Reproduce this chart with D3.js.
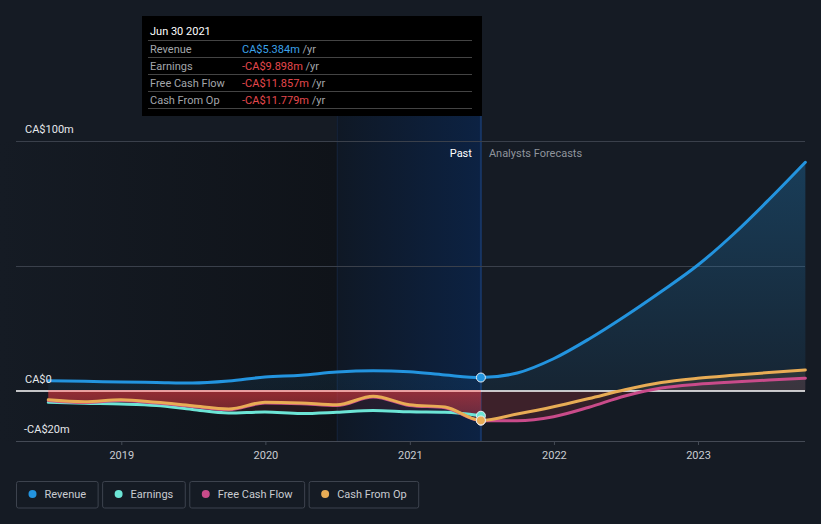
<!DOCTYPE html>
<html><head><meta charset="utf-8">
<script src="https://cdn.jsdelivr.net/npm/d3@7"></script>
<style>
html,body{margin:0;padding:0;background:#151b24;}
svg{display:block;font-family:Roboto,"Noto Sans",sans-serif;}
</style></head>
<body>
<svg id="chart" width="821" height="524"></svg>
<script>
// ---------- data ----------
const pastDates = ["2018-06-30","2018-09-30","2018-12-31","2019-03-31","2019-06-30","2019-09-30","2019-12-31","2020-03-31","2020-06-30","2020-09-30","2020-12-31","2021-03-31","2021-06-30"];
const revenuePast  = [4.1, 3.9, 3.6, 3.4, 3.2, 4.0, 5.6, 6.3, 7.6, 8.1, 7.7, 6.4, 5.384];
const earningsPast = [-4.5, -4.9, -5.2, -5.8, -7.4, -8.8, -8.4, -9.0, -8.5, -7.8, -8.3, -8.5, -9.898];
const fcfPast      = [-3.8, -4.6, -3.8, -4.8, -6.2, -7.5, -4.8, -5.1, -5.8, -2.4, -5.8, -6.7, -11.857];
const cfoPast      = [-3.5, -4.3, -3.5, -4.5, -5.9, -7.2, -4.5, -4.8, -5.5, -2.1, -5.5, -6.4, -11.779];

const forecastDates = ["2021-06-30","2021-09-30","2021-12-31","2022-03-31","2022-06-30","2022-09-30","2022-12-31","2023-03-31","2023-06-30","2023-09-30"];
const revenueFc = [5.384, 7.2, 12.9, 20.8, 29.9, 39.8, 50.3, 62.6, 76.6, 91.5];
const fcfFc     = [-11.857, -11.9, -10.3, -6.5, -2.0, 1.2, 2.7, 3.6, 4.4, 5.1];
const cfoFc     = [-11.779, -9.2, -6.3, -3.0, 0.5, 3.4, 5.1, 6.3, 7.4, 8.4];

const yTicks = [-20, 0, 100];
const yTickLabels = ["-CA$20m", "CA$0", "CA$100m"];
const xTickYears = [2019, 2020, 2021, 2022, 2023];

const seriesNames = ["Revenue", "Earnings", "Free Cash Flow", "Cash From Op"];
const seriesColors = ["#2394df", "#6ce5d6", "#c94b8a", "#e8ac55"];

const tooltipTitle = "Jun 30 2021";
const tooltipValues = ["CA$5.384m", "-CA$9.898m", "-CA$11.857m", "-CA$11.779m"];

// ---------- setup ----------
const parse = d3.timeParse("%Y-%m-%d");
const svg = d3.select("#chart");
const W = 821, H = 524;
const pL = 16, pR = 805, pT = 141, pB = 441;

const x = d3.scaleTime()
  .domain([new Date(2019,0,1), new Date(2023,0,1)])
  .range([121.3, 698]);
const y = d3.scaleLinear().domain([-20, 100]).range([pB, pT]);

const pD = pastDates.map(parse), fD = forecastDates.map(parse);
const mk = (dates, vals) => dates.map((d,i)=>({d, v: vals[i]}));
const revP = mk(pD, revenuePast), earP = mk(pD, earningsPast), fcfP = mk(pD, fcfPast), cfoP = mk(pD, cfoPast);
const revF = mk(fD, revenueFc), fcfF = mk(fD, fcfFc), cfoF = mk(fD, cfoFc);

const xNow = x(pD[pD.length-1]);
const xHl = x(parse("2020-06-30"));

const defs = svg.append("defs");
function lg(id, x1,y1,x2,y2, stops){
  const g = defs.append("linearGradient").attr("id", id)
    .attr("x1",x1).attr("y1",y1).attr("x2",x2).attr("y2",y2);
  stops.forEach(s=>g.append("stop").attr("offset",s[0]).attr("stop-color",s[1]).attr("stop-opacity",s[2]));
}
lg("pastBg","0","0","1","0",[[0,"#151b24",1],[1,"#0f1319",1]]);
lg("hlBg","0","0","1","0",[[0,"#0f1825",1],[1,"#0c2243",1]]);
lg("revArea","0","0","0","1",[[0,"#2394df",0.28],[1,"#2394df",0.08]]);
lg("redArea","0","0","0","1",[[0,"#d8383c",0.62],[1,"#d8383c",0.35]]);

// backgrounds
svg.append("rect").attr("x",0).attr("y",0).attr("width",W).attr("height",H).attr("fill","#151b24");
svg.append("rect").attr("x",0).attr("y",pT).attr("width",xHl).attr("height",pB-pT).attr("fill","url(#pastBg)");
svg.append("rect").attr("x",xHl).attr("y",116).attr("width",xNow-xHl).attr("height",pB-116).attr("fill","url(#hlBg)");
svg.append("line").attr("x1",xHl+0.5).attr("x2",xHl+0.5).attr("y1",116).attr("y2",pB).attr("stroke","#15233a").attr("stroke-width",1);
svg.append("line").attr("x1",xNow).attr("x2",xNow).attr("y1",116).attr("y2",pB).attr("stroke","#173563").attr("stroke-width",2);

// gridlines
[100, 50].forEach(v=>{
  svg.append("line").attr("x1",pL).attr("x2",pR).attr("y1",y(v)+0.5).attr("y2",y(v)+0.5)
    .attr("stroke","#3a404b").attr("stroke-width",1);
});

// areas
const curve = d3.curveMonotoneX;
const area0 = d3.area().x(p=>x(p.d)).y0(y(0)).y1(p=>y(p.v)).curve(curve);
const line = d3.line().x(p=>x(p.d)).y(p=>y(p.v)).curve(curve);

svg.append("path").datum(revP.concat(revF.slice(1))).attr("d",area0).attr("fill","url(#revArea)");
svg.append("path").datum(cfoP).attr("d",area0).attr("fill","url(#redArea)");
svg.append("path").datum(earP).attr("d",area0).attr("fill","#c83a40").attr("fill-opacity",0.12);

defs.append("clipPath").attr("id","below").append("rect").attr("x",0).attr("y",y(0)).attr("width",W).attr("height",pB-y(0));
defs.append("clipPath").attr("id","above").append("rect").attr("x",0).attr("y",0).attr("width",W).attr("height",y(0));
const gF = svg.append("g");
gF.append("path").datum(fcfF).attr("d",area0).attr("clip-path","url(#below)").attr("fill","#a0303c").attr("fill-opacity",0.22);
gF.append("path").datum(cfoF).attr("d",area0).attr("clip-path","url(#below)").attr("fill","#a0303c").attr("fill-opacity",0.1);
gF.append("path").datum(cfoF).attr("d",area0).attr("clip-path","url(#above)").attr("fill","#e8ac55").attr("fill-opacity",0.1);
gF.append("path").datum(fcfF).attr("d",area0).attr("clip-path","url(#above)").attr("fill","#c94b8a").attr("fill-opacity",0.1);

// zero line
svg.append("line").attr("x1",pL).attr("x2",pR).attr("y1",y(0)).attr("y2",y(0))
  .attr("stroke","#ffffff").attr("stroke-width",1.5);
svg.append("line").attr("x1",x(pD[0])).attr("x2",xNow).attr("y1",y(0)).attr("y2",y(0))
  .attr("stroke","#f09090").attr("stroke-width",1.5);

// lines
const lineData = [
  [revP.concat(revF.slice(1)), 0],
  [earP, 1],
  [fcfP.concat(fcfF.slice(1)), 2],
  [cfoP.concat(cfoF.slice(1)), 3]
];
lineData.forEach(([data, i])=>{
  svg.append("path").datum(data).attr("d",line).attr("fill","none")
    .attr("stroke",seriesColors[i]).attr("stroke-width",3).attr("stroke-linecap","round");
});

// x axis
svg.append("line").attr("x1",pL).attr("x2",pR).attr("y1",pB+0.5).attr("y2",pB+0.5)
  .attr("stroke","#444a55").attr("stroke-width",1);
const xAxis = d3.axisBottom(x).tickValues(xTickYears.map(yr=>new Date(yr,0,1)))
  .tickFormat(d3.timeFormat("%Y")).tickSize(4).tickPadding(6);
const gx = svg.append("g").attr("transform",`translate(0,${pB})`).call(xAxis);
gx.select(".domain").remove();
gx.selectAll(".tick line").attr("stroke","#444a55");
gx.selectAll(".tick text").attr("fill","#c9ccd1").attr("font-size",11).attr("font-family","Roboto,sans-serif");

// y labels
yTicks.forEach((v,i)=>{
  svg.append("text").attr("x", v<0 ? 24 : 25).attr("y", y(v) - 8).text(yTickLabels[i])
    .attr("fill","#e6e8eb").attr("font-size",11);
});

// markers
const markers = [[revP,0],[fcfP,2],[earP,1],[cfoP,3]];
markers.forEach(([data,i])=>{
  const p = data[data.length-1];
  svg.append("circle").attr("cx",x(p.d)).attr("cy",y(p.v)).attr("r",4.5)
    .attr("fill",seriesColors[i]).attr("stroke","#e8ecf0").attr("stroke-width",1);
});

svg.append("text").attr("x",xNow-9).attr("y",157).attr("text-anchor","end").text("Past")
  .attr("fill","#ffffff").attr("font-size",11);
svg.append("text").attr("x",xNow+8).attr("y",157).text("Analysts Forecasts")
  .attr("fill","#8f949c").attr("font-size",11);

// tooltip
const tt = svg.append("g");
tt.append("rect").attr("x",142).attr("y",16).attr("width",340).attr("height",100).attr("fill","#000000");
tt.append("text").attr("x",150).attr("y",35).text(tooltipTitle).attr("fill","#ffffff").attr("font-size",11);
const rowColors = ["#3ba2ea","#e5484d","#e5484d","#e5484d"];
seriesNames.forEach((n,i)=>{
  const ly = 40.5 + 17*i;
  tt.append("line").attr("x1",148).attr("x2",472).attr("y1",ly).attr("y2",ly).attr("stroke","#444").attr("stroke-width",1);
  const by = ly + 12;
  tt.append("text").attr("x",150).attr("y",by).text(n).attr("fill","#a3a6ab").attr("font-size",11);
  const t = tt.append("text").attr("x",242).attr("y",by).attr("font-size",11);
  t.append("tspan").text(tooltipValues[i]).attr("fill",rowColors[i]);
  t.append("tspan").text(" /yr").attr("fill","#a3a6ab");
});
tt.append("line").attr("x1",148).attr("x2",472).attr("y1",108.5).attr("y2",108.5).attr("stroke","#444").attr("stroke-width",1);

// legend
let lx = 16.5;
seriesNames.forEach((n,i)=>{
  const g = svg.append("g");
  const t = g.append("text").attr("x",lx+28).attr("y",498).text(n).attr("fill","#c9ccd1").attr("font-size",11);
  const tw = t.node().getComputedTextLength();
  const w = 28 + tw + 12;
  g.insert("rect","text").attr("x",lx).attr("y",481.5).attr("width",w).attr("height",26.5).attr("rx",2)
    .attr("fill","none").attr("stroke","#3d434e").attr("stroke-width",1);
  g.append("circle").attr("cx",lx+16).attr("cy",494).attr("r",4).attr("fill",seriesColors[i]);
  lx += w + 4.5;
});
</script>
</body></html>
